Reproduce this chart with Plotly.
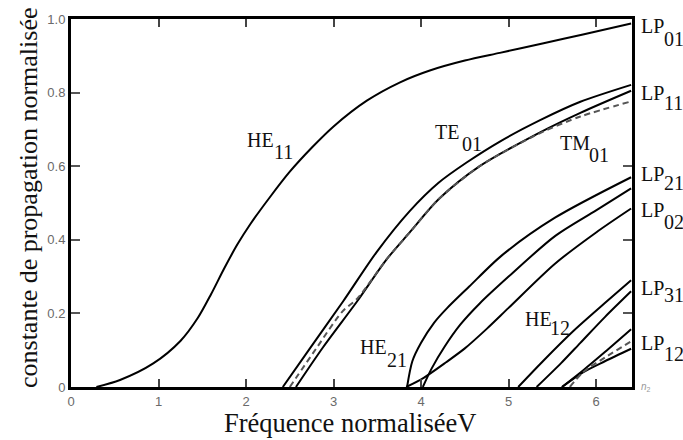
import plotly.graph_objects as go

# ---- data (V = normalised frequency, b = normalised propagation constant)
V_HE11 = [0.29, 0.56, 0.94, 1.25, 1.45, 1.60, 1.75, 1.90, 2.05, 2.27, 2.50, 2.75, 3.00, 3.38, 3.76, 4.10, 4.50, 4.90, 5.40, 5.85, 6.40]
B_HE11 = [0.0, 0.019, 0.064, 0.125, 0.188, 0.252, 0.322, 0.387, 0.443, 0.515, 0.585, 0.65, 0.708, 0.778, 0.828, 0.860, 0.887, 0.908, 0.934, 0.958, 0.988]

V_TE01 = [2.42, 2.73, 3.11, 3.49, 3.87, 4.20, 4.52, 4.90, 5.36, 5.82, 6.40]
B_TE01 = [0.0, 0.105, 0.233, 0.366, 0.478, 0.555, 0.61, 0.667, 0.725, 0.775, 0.821]

V_TM01 = [2.57, 2.88, 3.27, 3.61, 3.87, 4.20, 4.67, 5.36, 5.82, 6.40]
B_TM01 = [0.0, 0.108, 0.233, 0.348, 0.42, 0.51, 0.60, 0.692, 0.745, 0.805]

V_LP11 = [2.50, 2.80, 3.10, 3.27, 3.61, 3.87, 4.20, 4.67, 5.36, 5.82, 6.40]
B_LP11 = [0.0, 0.104, 0.205, 0.24, 0.348, 0.42, 0.51, 0.60, 0.69, 0.735, 0.776]

V_EH11 = [3.84, 3.90, 4.00, 4.15, 4.30, 4.55, 4.92, 5.53, 6.40]
B_EH11 = [0.0, 0.07, 0.12, 0.175, 0.215, 0.273, 0.357, 0.46, 0.57]

V_HE31 = [4.02, 4.12, 4.27, 4.45, 4.67, 5.00, 5.53, 6.00, 6.40]
B_HE31 = [0.0, 0.05, 0.11, 0.17, 0.227, 0.30, 0.41, 0.48, 0.54]

V_HE12 = [3.83, 4.03, 4.29, 4.50, 4.75, 5.00, 5.53, 6.00, 6.40]
B_HE12 = [0.0, 0.025, 0.068, 0.105, 0.158, 0.215, 0.335, 0.42, 0.485]

V_LP31A = [5.11, 5.40, 5.74, 6.10, 6.40]
B_LP31A = [0.0, 0.072, 0.152, 0.228, 0.29]
V_LP31B = [5.32, 5.60, 5.82, 6.10, 6.40]
B_LP31B = [0.0, 0.065, 0.12, 0.19, 0.26]

V_LP12A = [5.61, 5.85, 6.10, 6.40]
B_LP12A = [0.0, 0.045, 0.095, 0.157]
V_LP12B = [5.61, 5.85, 6.10, 6.40]
B_LP12B = [0.0, 0.04, 0.07, 0.104]
V_LP12D = [5.70, 5.85, 6.10, 6.40]
B_LP12D = [0.0, 0.04, 0.08, 0.124]

X_TICKS = [0, 1, 2, 3, 4, 5, 6]
Y_TICKS = [0, 0.2, 0.4, 0.6, 0.8, 1.0]
Y_TICK_TEXT = ["0", "0.2", "0.4", "0.6", "0.8", "1.0"]
Y_RIGHT_TICKS = [0.2, 0.4, 0.6]

# labels: (main text, subscript, main V, main b, sub V, sub b)
CURVE_LABELS = [
    ("HE", "11", 1.99, 0.671, 2.30, 0.639),
    ("TE", "01", 4.14, 0.693, 4.45, 0.660),
    ("TM", "01", 5.57, 0.662, 5.90, 0.631),
    ("HE", "21", 3.28, 0.110, 3.59, 0.074),
    ("HE", "12", 5.17, 0.186, 5.45, 0.159),
]
SIDE_LABELS = [
    ("LP", "01", 0.981, 0.945),
    ("LP", "11", 0.799, 0.771),
    ("LP", "21", 0.580, 0.553),
    ("LP", "02", 0.481, 0.449),
    ("LP", "31", 0.270, 0.251),
    ("LP", "12", 0.120, 0.091),
]

fig = go.Figure()

solid = dict(color="black", width=2)
dashed = dict(color="#555555", width=2, dash="6px,4px")

def add_curve(v, b, line):
    fig.add_trace(go.Scatter(x=v, y=b, mode="lines", line=dict(**line, shape="spline", smoothing=0.8),
                             hoverinfo="skip", showlegend=False))

add_curve(V_HE11, B_HE11, solid)
add_curve(V_TE01, B_TE01, solid)
add_curve(V_TM01, B_TM01, solid)
add_curve(V_LP11, B_LP11, dashed)
add_curve(V_EH11, B_EH11, solid)
add_curve(V_HE31, B_HE31, solid)
add_curve(V_HE12, B_HE12, solid)
add_curve(V_LP31A, B_LP31A, solid)
add_curve(V_LP31B, B_LP31B, solid)
add_curve(V_LP12A, B_LP12A, solid)
add_curve(V_LP12B, B_LP12B, solid)
add_curve(V_LP12D, B_LP12D, dashed)

# empty trace to carry the right-hand tick axis
fig.add_trace(go.Scatter(x=[None], y=[None], yaxis="y2", mode="lines", showlegend=False, hoverinfo="skip"))

SERIF = "Liberation Serif"
LBL = dict(family=SERIF, size=20, color="#111111")

for main, sub, mv, mb, sv, sb in CURVE_LABELS:
    fig.add_annotation(x=mv, y=mb, xref="x", yref="y", text=main, showarrow=False,
                       xanchor="left", yanchor="middle", font=LBL)
    fig.add_annotation(x=sv, y=sb, xref="x", yref="y", text=sub, showarrow=False,
                       xanchor="left", yanchor="middle", font=LBL)

for main, sub, mb, sb in SIDE_LABELS:
    fig.add_annotation(x=1.012, y=mb, xref="paper", yref="paper", text=main, showarrow=False,
                       xanchor="left", yanchor="middle", font=LBL)
    fig.add_annotation(x=1.053, y=sb, xref="paper", yref="paper", text=sub, showarrow=False,
                       xanchor="left", yanchor="middle", font=LBL)

fig.add_annotation(x=1.012, y=0.0, xref="paper", yref="paper", text="<i>n</i><sub>2</sub>",
                   showarrow=False, xanchor="left", yanchor="middle",
                   font=dict(family="Liberation Sans", size=10, color="#999999"))

# axis titles
fig.add_annotation(x=-0.077, y=0.513, xref="paper", yref="paper",
                   text="constante de propagation normalisée", textangle=-90, showarrow=False,
                   xanchor="center", yanchor="middle", font=dict(family=SERIF, size=26, color="#111111"))
fig.add_annotation(x=0.497, y=-0.099, xref="paper", yref="paper",
                   text="Fréquence normaliséeV", showarrow=False,
                   xanchor="center", yanchor="middle", font=dict(family=SERIF, size=26.5, color="#111111"))

TICKFONT = dict(family="Liberation Sans", size=13, color="#6a6a6a")

fig.update_layout(
    width=683, height=440,
    margin=dict(l=71, r=51, t=13, b=53),
    paper_bgcolor="white", plot_bgcolor="white",
    xaxis=dict(range=[0, 6.41], tickvals=X_TICKS, ticks="inside", ticklen=8, tickwidth=1.5,
               tickcolor="#444444", showline=True, linewidth=3, linecolor="black", mirror="ticks",
               showgrid=False, zeroline=False, tickfont=TICKFONT),
    yaxis=dict(range=[0, 1.0], tickvals=Y_TICKS, ticktext=Y_TICK_TEXT, ticks="inside", ticklen=9,
               tickwidth=2, tickcolor="#555555", showline=True, linewidth=3, linecolor="black",
               mirror=True, showgrid=False, zeroline=False, tickfont=TICKFONT),
    yaxis2=dict(range=[0, 1.0], overlaying="y", side="right", anchor="x", tickvals=Y_RIGHT_TICKS,
                ticks="inside", ticklen=9, tickwidth=2, tickcolor="#555555", showticklabels=False,
                showline=False, showgrid=False, zeroline=False),
)

fig.write_html("out.html")
